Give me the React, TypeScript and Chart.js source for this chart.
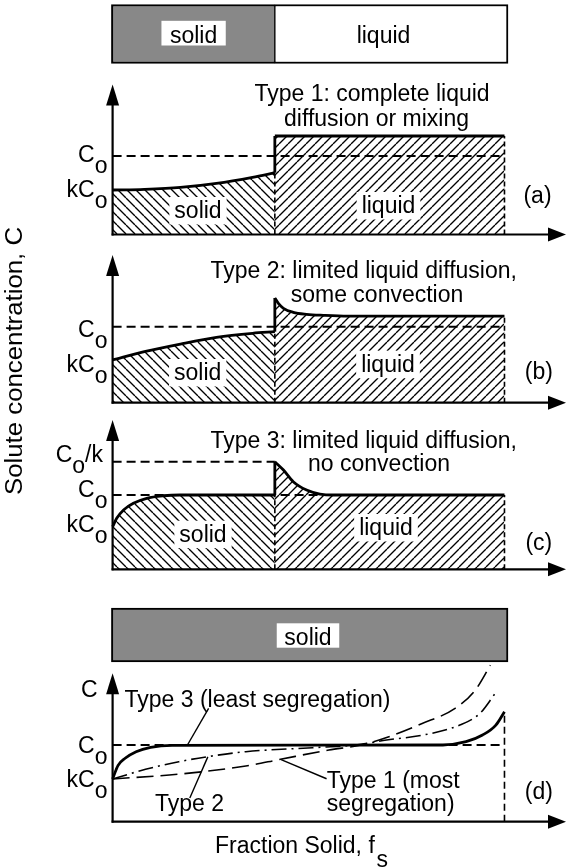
import React, { useEffect, useRef } from "react";
import { Chart, registerables } from "chart.js";

Chart.register(...registerables);

const W = 566;
const H = 868;
const FAMILY = '"Liberation Sans", Arial, Helvetica, sans-serif';
const TXT = 23;
const GREY = "#888888";

// ----------------- data -----------------
const FS_INTERFACE = 0.414;
const FS_END = 1;
const FS_AXIS_END = 1.157;
const C0 = 1;

// phase bars
const topBarPhases = ["solid", "liquid"];
const topBarFrom = [-0.003, 0.414];
const topBarTo = [0.414, 1.009];
const dBarPhases = ["solid"];
const dBarFrom = [-0.003];
const dBarTo = [1.009];

// (a) Type 1
const aAxisTop = 1.911;
const aKC0 = 0.567;
const aSolidFs = [0, 0.081, 0.173, 0.265, 0.357, 0.414];
const aSolidC = [0.567, 0.576, 0.6, 0.652, 0.729, 0.787];
const aLiquidFs = [0.414, 1];
const aLiquidC = [1.255, 1.255];

// (b) Type 2
const bAxisTop = 1.943;
const bKC0 = 0.562;
const bSolidFs = [0, 0.081, 0.173, 0.265, 0.357, 0.414];
const bSolidC = [0.562, 0.671, 0.772, 0.86, 0.913, 0.934];
const bLiquidFs = [0.414, 0.423, 0.436, 0.461, 0.495, 0.538, 0.6, 1];
const bLiquidC = [1.378, 1.308, 1.242, 1.189, 1.163, 1.15, 1.14, 1.14];

// (c) Type 3
const cAxisTop = 2.01;
const cKC0 = 0.573;
const cC0overK = 1.448;
const cSolidFs = [0, 0.0105, 0.028, 0.053, 0.087, 0.13, 0.172, 0.414];
const cSolidC = [0.573, 0.686, 0.798, 0.888, 0.956, 0.99, 1, 1];
const cLiquidFs = [0.414, 0.436, 0.461, 0.495, 0.529, 0.563, 1];
const cLiquidC = [1.448, 1.336, 1.179, 1.067, 1.013, 1, 1];

// (d) final solid profiles
const dAxisTop = 1.935;
const dKC0 = 0.557;
const dType3Fs = [0, 0.014, 0.032, 0.06, 0.097, 0.152, 0.843, 0.902, 0.944, 0.978, 1];
const dType3C = [0.557, 0.735, 0.827, 0.913, 0.97, 0.996, 1, 1.043, 1.13, 1.26, 1.434];
const dType2Fs = [0, 0.084, 0.169, 0.254, 0.34, 0.51, 0.62, 0.699, 0.793, 0.886, 0.937, 0.976];
const dType2C = [0.557, 0.683, 0.782, 0.857, 0.913, 0.965, 1, 1.065, 1.13, 1.26, 1.41, 1.67];
const dType1Fs = [0, 0.169, 0.34, 0.425, 0.552, 0.634, 0.705, 0.79, 0.875, 0.926, 0.964];
const dType1C = [0.557, 0.62, 0.726, 0.81, 0.935, 1, 1.108, 1.28, 1.48, 1.72, 2.04];
const leader3Fs = [0.191, 0.245];
const leader3C = [1, 1.478];
const leader2Fs = [0.243, 0.197];
const leader2C = [0.845, 0.31];
const leader1Fs = [0.43, 0.546];
const leader1C = [0.81, 0.56];

// texts
const Y_TITLE = "Solute concentration, C";
const X_TITLE = "Fraction Solid, f";
const titleA = ["Type 1: complete liquid", "diffusion or mixing"];
const titleB = ["Type 2: limited liquid diffusion,", "some convection"];
const titleC = ["Type 3: limited liquid diffusion,", "no convection"];
const dNotes = ["Type 3 (least segregation)", "Type 2", "Type 1 (most", "segregation)"];

// ----------------- layout (pixels) -----------------
const LEFT = 112.6;
const BOX = {
  top: { top: 4.5, bottom: 63.5 },
  a: { top: 84.5, bottom: 234.5 },
  b: { top: 255, bottom: 402.7 },
  c: { top: 420, bottom: 569.3 },
  dBar: { top: 608, bottom: 662 },
  d: { top: 673.3, bottom: 821.7 },
};
const CO_DASH = [9, 5];
const CO_WIDTH = 2;
const EDGE_DASH = [5, 3];
const EDGE_WIDTH = 1.6;

type Part = { t: string; dy?: number; size?: number };
interface Label {
  parts: Part[];
  x: number;
  y?: number;
  value?: number;
  dy?: number;
  align?: "left" | "center" | "right";
  middle?: boolean;
  box?: { padX: number; above: number; below: number };
}

const P = (t: string): Part[] => [{ t }];
const sub = (main: string, s: string, tail?: string): Part[] => {
  const r: Part[] = [{ t: main }, { t: s, dy: 11 }];
  if (tail) r.push({ t: tail });
  return r;
};

function drawLabel(chart: any, lab: Label) {
  const ctx: CanvasRenderingContext2D = chart.ctx;
  ctx.save();
  const y =
    lab.value !== undefined
      ? chart.scales.y.getPixelForValue(lab.value) + (lab.dy ?? 0)
      : (lab.y as number);
  ctx.textBaseline = lab.middle ? "middle" : "alphabetic";
  ctx.textAlign = "left";
  const ws = lab.parts.map((p) => {
    ctx.font = `${p.size ?? TXT}px ${FAMILY}`;
    return ctx.measureText(p.t).width;
  });
  const total = ws.reduce((a, b) => a + b, 0);
  const align = lab.align ?? "left";
  let x = align === "left" ? lab.x : align === "right" ? lab.x - total : lab.x - total / 2;
  if (lab.box) {
    ctx.fillStyle = "#fff";
    ctx.fillRect(x - lab.box.padX, y - lab.box.above, total + 2 * lab.box.padX, lab.box.above + lab.box.below);
  }
  ctx.fillStyle = "#000";
  lab.parts.forEach((p, i) => {
    ctx.font = `${p.size ?? TXT}px ${FAMILY}`;
    ctx.fillText(p.t, x, y + (p.dy ?? 0));
    x += ws[i];
  });
  ctx.restore();
}

function drawAxes(chart: any, axisTop: number) {
  const ctx: CanvasRenderingContext2D = chart.ctx;
  const xs = chart.scales.x;
  const ys = chart.scales.y;
  const x0 = xs.getPixelForValue(0);
  const y0 = ys.getPixelForValue(0);
  const yt = ys.getPixelForValue(axisTop);
  const xt = xs.getPixelForValue(FS_AXIS_END);
  ctx.save();
  ctx.strokeStyle = "#000";
  ctx.fillStyle = "#000";
  ctx.lineWidth = 2.2;
  ctx.beginPath();
  ctx.moveTo(x0, y0 + 1);
  ctx.lineTo(x0, yt + 12);
  ctx.stroke();
  ctx.beginPath();
  ctx.moveTo(x0 - 1, y0);
  ctx.lineTo(xt - 10, y0);
  ctx.stroke();
  ctx.beginPath();
  ctx.moveTo(x0, yt);
  ctx.lineTo(x0 - 6.5, yt + 21);
  ctx.lineTo(x0 + 6.5, yt + 21);
  ctx.closePath();
  ctx.fill();
  ctx.beginPath();
  ctx.moveTo(xt, y0);
  ctx.lineTo(xt - 18, y0 - 7);
  ctx.lineTo(xt - 18, y0 + 7);
  ctx.closePath();
  ctx.fill();
  ctx.restore();
}

function hatch(dir: "fwd" | "back", size = 9): CanvasPattern {
  const c = document.createElement("canvas");
  c.width = size;
  c.height = size;
  const g = c.getContext("2d") as CanvasRenderingContext2D;
  g.strokeStyle = "#000";
  g.lineWidth = 1.35;
  g.beginPath();
  for (const o of [-size, 0, size]) {
    if (dir === "fwd") {
      g.moveTo(o, size);
      g.lineTo(o + size, 0);
    } else {
      g.moveTo(o, 0);
      g.lineTo(o + size, size);
    }
  }
  g.stroke();
  return g.createPattern(c, "repeat") as CanvasPattern;
}

const pts = (xs: number[], ys: number[]) => xs.map((x, i) => ({ x, y: ys[i] }));

const area = (xs: number[], ys: number[], pattern: CanvasPattern) => ({
  data: pts(xs, ys),
  borderColor: "#000",
  borderWidth: 2.8,
  backgroundColor: pattern,
  fill: "origin",
  cubicInterpolationMode: "monotone",
  pointRadius: 0,
  order: 5,
  clip: false,
});

const line = (xs: number[], ys: number[], width: number, dash: number[] = [], curved = false) => ({
  data: pts(xs, ys),
  borderColor: "#000",
  borderWidth: width,
  borderDash: dash,
  fill: false,
  pointRadius: 0,
  order: 1,
  clip: false,
  tension: 0,
  cubicInterpolationMode: curved ? "monotone" : "default",
  borderCapStyle: "butt",
});

function baseOptions(box: { top: number; bottom: number }, yMax: number) {
  return {
    responsive: false,
    animation: false,
    events: [],
    layout: { padding: { left: LEFT, right: 0, top: box.top, bottom: H - box.bottom } },
    plugins: { legend: { display: false }, tooltip: { enabled: false } },
    elements: { line: { capBezierPoints: false } },
    scales: {
      x: { type: "linear", min: 0, max: FS_AXIS_END, display: false },
      y: { type: "linear", min: 0, max: yMax, display: false },
    },
  };
}

function panel(box: any, yMax: number, datasets: any[], labels: Label[], extra?: (c: any) => void) {
  return {
    type: "line",
    data: { datasets },
    options: baseOptions(box, yMax),
    plugins: [
      {
        id: "deco",
        afterDatasetsDraw(chart: any) {
          drawAxes(chart, yMax);
          labels.forEach((l) => drawLabel(chart, l));
          if (extra) extra(chart);
        },
      },
    ],
  };
}

function barPanel(box: any, phases: string[], from: number[], to: number[], labels: Label[]) {
  const datasets = phases.map((name, i) => ({
    label: name,
    data: [[from[i], to[i]]],
    backgroundColor: name === "solid" ? GREY : "#ffffff",
    borderColor: "#000",
    borderWidth: {
      top: 2,
      bottom: 2,
      left: i === 0 ? 2 : 1,
      right: i === phases.length - 1 ? 2 : 1,
    },
    borderSkipped: false,
    grouped: false,
    categoryPercentage: 1,
    barPercentage: 1,
    clip: false,
  }));
  const o: any = baseOptions(box, 1);
  o.indexAxis = "y";
  o.scales = {
    x: { type: "linear", min: 0, max: FS_AXIS_END, display: false },
    y: { type: "category", display: false },
  };
  return {
    type: "bar",
    data: { labels: ["phase"], datasets },
    options: o,
    plugins: [
      {
        id: "deco",
        afterDatasetsDraw(chart: any) {
          labels.forEach((l) => drawLabel(chart, l));
        },
      },
    ],
  };
}

const phaseBox = { padX: 5, above: 21, below: 6.5 };
const barBox = { padX: 8.5, above: 21.7, below: 3 };

function buildTopBar() {
  return barPanel(BOX.top, topBarPhases, topBarFrom, topBarTo, [
    { parts: P(topBarPhases[0]), x: 193.6, y: 42.5, align: "center", box: barBox },
    { parts: P(topBarPhases[1]), x: 383.5, y: 42.5, align: "center" },
  ]);
}

function buildA() {
  const back = hatch("back");
  const fwd = hatch("fwd");
  const sEnd = aSolidC[aSolidC.length - 1];
  return panel(
    BOX.a,
    aAxisTop,
    [
      area(aSolidFs, aSolidC, back),
      area(aLiquidFs, aLiquidC, fwd),
      line([FS_INTERFACE, FS_INTERFACE], [sEnd, aLiquidC[0]], 2.8),
      line([FS_INTERFACE, FS_INTERFACE], [0, sEnd], EDGE_WIDTH, EDGE_DASH),
      line([FS_END, FS_END], [0, aLiquidC[aLiquidC.length - 1]], EDGE_WIDTH, EDGE_DASH),
      line([0, FS_END], [C0, C0], CO_WIDTH, CO_DASH),
    ],
    [
      { parts: P(titleA[0]), x: 372, y: 101, align: "center" },
      { parts: P(titleA[1]), x: 376.5, y: 126, align: "center" },
      { parts: sub("C", "o"), x: 107.5, value: C0, dy: 6, align: "right" },
      { parts: sub("kC", "o"), x: 107.5, value: aKC0, dy: 7, align: "right" },
      { parts: P("solid"), x: 198, y: 218, align: "center", box: phaseBox },
      { parts: P("liquid"), x: 388.5, y: 213, align: "center", box: phaseBox },
      { parts: P("(a)"), x: 537.5, y: 197, align: "center", middle: true },
    ]
  );
}

function buildB() {
  const back = hatch("back");
  const fwd = hatch("fwd");
  const sEnd = bSolidC[bSolidC.length - 1];
  return panel(
    BOX.b,
    bAxisTop,
    [
      area(bSolidFs, bSolidC, back),
      area(bLiquidFs, bLiquidC, fwd),
      line([FS_INTERFACE, FS_INTERFACE], [sEnd, bLiquidC[0]], 2.8),
      line([FS_INTERFACE, FS_INTERFACE], [0, sEnd], EDGE_WIDTH, EDGE_DASH),
      line([FS_END, FS_END], [0, bLiquidC[bLiquidC.length - 1]], EDGE_WIDTH, EDGE_DASH),
      line([0, FS_END], [C0, C0], CO_WIDTH, CO_DASH),
    ],
    [
      { parts: P(titleB[0]), x: 363.7, y: 278, align: "center" },
      { parts: P(titleB[1]), x: 377, y: 302, align: "center" },
      { parts: sub("C", "o"), x: 107.5, value: C0, dy: 10, align: "right" },
      { parts: sub("kC", "o"), x: 107.5, value: bKC0, dy: 12, align: "right" },
      { parts: P("solid"), x: 197.7, y: 380, align: "center", box: phaseBox },
      { parts: P("liquid"), x: 388, y: 371.7, align: "center", box: phaseBox },
      { parts: P("(b)"), x: 538.8, y: 373, align: "center", middle: true },
    ],
    (chart: any) => {
      const ctx: CanvasRenderingContext2D = chart.ctx;
      ctx.save();
      ctx.translate(15.8, 361);
      ctx.rotate(-Math.PI / 2);
      ctx.font = `${TXT}px ${FAMILY}`;
      const w = ctx.measureText(Y_TITLE).width;
      ctx.scale(268 / w, 1);
      ctx.textAlign = "center";
      ctx.textBaseline = "middle";
      ctx.fillStyle = "#000";
      ctx.fillText(Y_TITLE, 0, 0);
      ctx.restore();
    }
  );
}

function buildC() {
  const back = hatch("back");
  const fwd = hatch("fwd");
  const sEnd = cSolidC[cSolidC.length - 1];
  return panel(
    BOX.c,
    cAxisTop,
    [
      area(cSolidFs, cSolidC, back),
      area(cLiquidFs, cLiquidC, fwd),
      line([FS_INTERFACE, FS_INTERFACE], [sEnd, cLiquidC[0]], 2.8),
      line([FS_INTERFACE, FS_INTERFACE], [0, sEnd], EDGE_WIDTH, EDGE_DASH),
      line([FS_END, FS_END], [0, cLiquidC[cLiquidC.length - 1]], EDGE_WIDTH, EDGE_DASH),
      line([0, FS_END], [C0, C0], CO_WIDTH, CO_DASH),
      line([0, FS_INTERFACE], [cC0overK, cC0overK], CO_WIDTH, CO_DASH),
    ],
    [
      { parts: P(titleC[0]), x: 363.7, y: 448, align: "center" },
      { parts: P(titleC[1]), x: 379, y: 471, align: "center" },
      { parts: sub("C", "o", "/k"), x: 103, value: cC0overK, dy: 0, align: "right" },
      { parts: sub("C", "o"), x: 107.5, value: C0, dy: 2, align: "right" },
      { parts: sub("kC", "o"), x: 107.5, value: cKC0, dy: 5, align: "right" },
      { parts: P("solid"), x: 203, y: 541.7, align: "center", box: phaseBox },
      { parts: P("liquid"), x: 386, y: 535, align: "center", box: phaseBox },
      { parts: P("(c)"), x: 538.8, y: 544, align: "center", middle: true },
    ]
  );
}

function buildDBar() {
  return barPanel(BOX.dBar, dBarPhases, dBarFrom, dBarTo, [
    { parts: P(dBarPhases[0]), x: 308, y: 645, align: "center", box: { padX: 7.6, above: 21.7, below: 2.7 } },
  ]);
}

function buildD() {
  return panel(
    BOX.d,
    dAxisTop,
    [
      line(dType3Fs, dType3C, 2.8, [], true),
      line(dType2Fs, dType2C, 1.6, [15, 5, 2, 5], true),
      line(dType1Fs, dType1C, 1.6, [17, 7], true),
      line([0, FS_END], [C0, C0], CO_WIDTH, CO_DASH),
      line([FS_END, FS_END], [0, dType3C[dType3C.length - 1]], EDGE_WIDTH, [7, 4]),
      line(leader3Fs, leader3C, 1.4),
      line(leader2Fs, leader2C, 1.4),
      line(leader1Fs, leader1C, 1.4),
    ],
    [
      { parts: P("C"), x: 97.5, y: 697, align: "right" },
      { parts: sub("C", "o"), x: 107.5, value: C0, dy: 8, align: "right" },
      { parts: sub("kC", "o"), x: 107.5, value: dKC0, dy: 8, align: "right" },
      { parts: P(dNotes[0]), x: 124.5, y: 706.5, align: "left" },
      { parts: P(dNotes[1]), x: 155, y: 811, align: "left" },
      { parts: P(dNotes[2]), x: 326.7, y: 788, align: "left" },
      { parts: P(dNotes[3]), x: 326.7, y: 811, align: "left" },
      { parts: P("(d)"), x: 538.8, y: 793, align: "center", middle: true },
      { parts: [{ t: X_TITLE }, { t: " ", size: 6 }, { t: "s", dy: 13.5 }], x: 215, y: 853, align: "left" },
    ]
  );
}

function ChartCanvas({ build }: { build: () => any }) {
  const ref = useRef<HTMLCanvasElement>(null);
  useEffect(() => {
    const cv = ref.current as HTMLCanvasElement;
    const chart = new Chart(cv, build() as any);
    return () => chart.destroy();
  }, [build]);
  return (
    <canvas
      ref={ref}
      width={W}
      height={H}
      style={{ position: "absolute", left: 0, top: 0, width: W, height: H }}
    />
  );
}

const builders = [buildTopBar, buildA, buildB, buildC, buildDBar, buildD];

export default function App() {
  return (
    <div
      style={{
        position: "absolute",
        left: 0,
        top: 0,
        width: W,
        height: H,
        background: "#fff",
        overflow: "hidden",
      }}
    >
      {builders.map((b, i) => (
        <ChartCanvas key={i} build={b} />
      ))}
    </div>
  );
}
